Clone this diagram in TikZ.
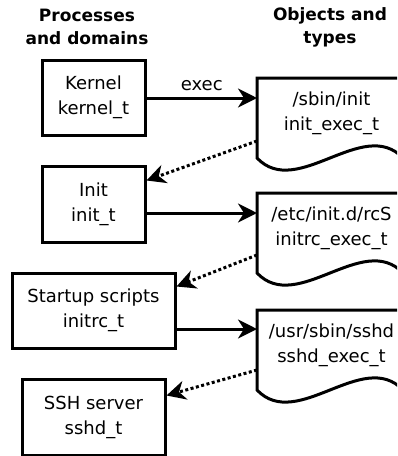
\documentclass[tikz,border=0pt]{standalone}
\usepackage{fontspec}
\setmainfont{DejaVu Sans}
\usetikzlibrary{arrows.meta}
\begin{document}
\begin{tikzpicture}[x=1pt,y=-1pt,line width=3pt,
  every node/.style={align=center,font=\fontsize{18}{25}\selectfont},
  head/.style={font=\fontsize{17}{23}\selectfont\bfseries},
  box/.style={draw,minimum height=75pt},
  doc/.style={anchor=north west,minimum width=146pt,minimum height=68pt},
  arr/.style={-{Stealth[length=19pt,width=19pt,inset=6pt]}},
  dots/.style={arr,dash pattern=on 3pt off 2.5pt}]
\clip (0,0) rectangle (397,456);
\node[head] (hp) at (87,27) {Processes\\and domains};
\node[head] (ho) at (330,27) {Objects and\\types};
\node[box,minimum width=103pt] (k) at (93.5,97.5) {Kernel\\kernel\_t};
\node[box,minimum width=103pt,minimum height=76pt] (i) at (93.5,204) {Init\\init\_t};
\node[box,minimum width=163pt] (s) at (93.5,310.5) {Startup scripts\\initrc\_t};
\node[box,minimum width=143pt,minimum height=76pt] (h) at (93.5,417) {SSH server\\sshd\_t};
\foreach \n/\y/\t in {d1/78/{/sbin/init\\init\_exec\_t},d2/193/{/etc/init.d/rcS\\initrc\_exec\_t},d3/310/{/usr/sbin/sshd\\sshd\_exec\_t}}{
  \node[doc] (\n) at (257,\y) {\t};
  \draw (\n.north east) -- (\n.north west) -- ++(0,80) .. controls +(40,42) and +(-40,-42) .. ++(146,0) -- cycle;
}
\draw[arr] (k.east |- 0,98) -- node[above=2pt] (ex) {exec} ([yshift=-20pt]d1.north west);
\draw[arr] (i.east |- 0,213) -- ([yshift=-20pt]d2.north west);
\draw[arr] (s.east |- 0,329) -- ([yshift=-19pt]d3.north west);
\draw[dots] ([yshift=-63pt]d1.north west) -- ([yshift=-16pt]i.north east);
\draw[dots] ([yshift=-62pt]d2.north west) -- ([yshift=-15pt]s.north east);
\draw[dots] ([yshift=-60pt]d3.north west) -- ([yshift=-18pt]h.north east);
\end{tikzpicture}
\end{document}
